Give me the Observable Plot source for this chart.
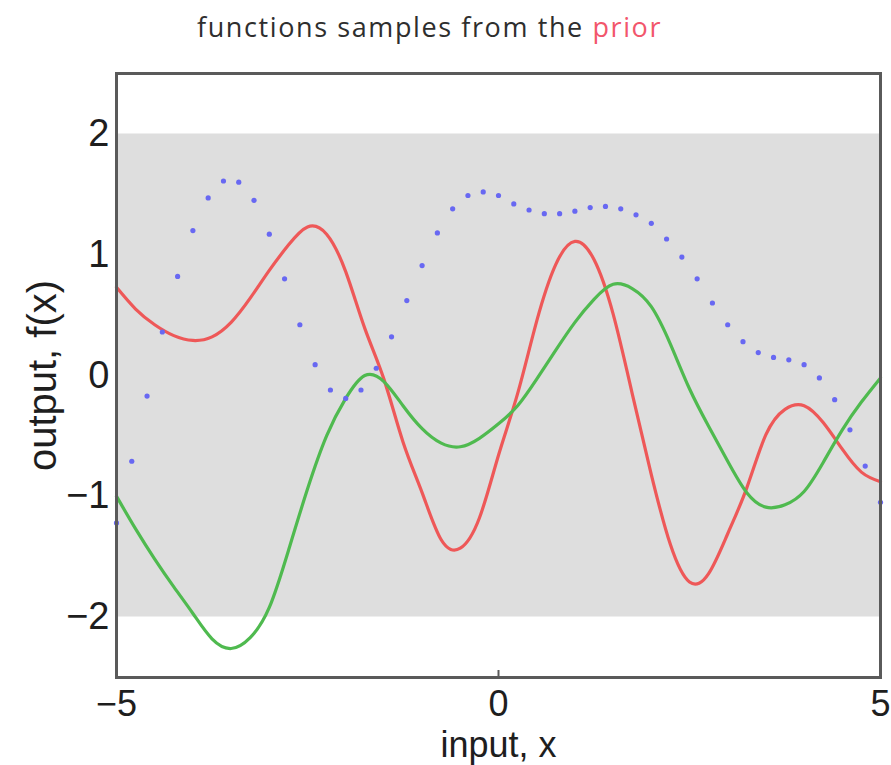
<!DOCTYPE html>
<html>
<head>
<meta charset="utf-8">
<script src="https://cdn.jsdelivr.net/npm/d3@7"></script>
<script src="https://cdn.jsdelivr.net/npm/@observablehq/plot@0.6"></script>
<style>
  html, body { margin: 0; padding: 0; background: #fff; }
  #chart { width: 891px; height: 765px; overflow: hidden; }
  #title {
    height: 52px;
    line-height: 54px;
    padding-left: 197px;
    font-family: "Open Sans", "Noto Sans", sans-serif;
    font-size: 27px;
    letter-spacing: 1.6px;
    color: #2e2e2e;
    white-space: nowrap;
  }
  #title .prior { color: #f2566c; }
  svg { display: block; }
</style>
</head>
<body>
<div id="chart">
  <div id="title">functions samples from the <span class="prior">prior</span></div>
</div>
<script>
// Axis settings
const xDomain = [-5, 5];
const yDomain = [-2.5, 2.5];
const xTicks = [-5, 0, 5];
const yTicks = [-2, -1, 0, 1, 2];
const xLabel = "input, x";
const yLabel = "output, f(x)";

// Prior: zero mean, shaded band of +/- two standard deviations
const bandX = [-5, 5];
const bandHalfWidth = 2;

// Grid on which the two smooth sample functions are evaluated
const sampleX = [
  -5, -4.75, -4.5, -4.25, -4, -3.75, -3.5, -3.25, -3, -2.75, -2.5, -2.25, -2, -1.75,
  -1.5, -1.25, -1, -0.75, -0.5, -0.25, 0, 0.25, 0.5, 0.75, 1, 1.25, 1.5, 1.75, 2,
  2.25, 2.5, 2.75, 3, 3.25, 3.5, 3.75, 4, 4.25, 4.5, 4.75, 5
];
const redSample = [
  0.73, 0.55, 0.42, 0.33, 0.29, 0.32, 0.44, 0.64, 0.87, 1.08, 1.23, 1.17, 0.86, 0.39,
  -0.03, -0.55, -0.97, -1.36, -1.43, -1.18, -0.66, -0.15, 0.45, 0.92, 1.11, 0.96, 0.51, -0.15, -0.82,
  -1.40, -1.71, -1.64, -1.31, -0.93, -0.49, -0.28, -0.25, -0.39, -0.61, -0.80, -0.88
];
const greenSample = [
  -1.00, -1.27, -1.52, -1.75, -1.97, -2.18, -2.26, -2.17, -1.92, -1.45, -0.94, -0.50, -0.19, 0.00,
  -0.05, -0.25, -0.44, -0.56, -0.59, -0.52, -0.40, -0.25, -0.03, 0.21, 0.44, 0.63, 0.755, 0.72, 0.57,
  0.26, -0.11, -0.42, -0.71, -0.97, -1.09, -1.07, -0.96, -0.72, -0.45, -0.22, -0.02
];

// Third sample, drawn as points on a coarser grid
const dotX = [
  -5, -4.8, -4.6, -4.4, -4.2, -4, -3.8, -3.6, -3.4, -3.2, -3, -2.8, -2.6, -2.4, -2.2, -2,
  -1.8, -1.6, -1.4, -1.2, -1, -0.8, -0.6, -0.4, -0.2, 0, 0.2, 0.4, 0.6, 0.8, 1, 1.2, 1.4,
  1.6, 1.8, 2, 2.2, 2.4, 2.6, 2.8, 3, 3.2, 3.4, 3.6, 3.8, 4, 4.2, 4.4, 4.6, 4.8, 5
];
const dotY = [
  -1.22, -0.71, -0.17, 0.36, 0.82, 1.20, 1.47, 1.61, 1.60, 1.45, 1.17, 0.80, 0.42, 0.09, -0.12, -0.19,
  -0.12, 0.06, 0.32, 0.62, 0.91, 1.18, 1.38, 1.49, 1.52, 1.49, 1.42, 1.37, 1.34, 1.34, 1.36, 1.39, 1.40,
  1.38, 1.33, 1.26, 1.13, 0.98, 0.80, 0.60, 0.42, 0.28, 0.19, 0.15, 0.13, 0.09, -0.02, -0.20, -0.45, -0.75, -1.05
];

const redCurve = sampleX.map((x, i) => ({x, y: redSample[i]}));
const greenCurve = sampleX.map((x, i) => ({x, y: greenSample[i]}));
const dots = dotX.map((x, i) => ({x, y: dotY[i]}));

const fmt = d => (d < 0 ? "\u2212" + Math.abs(d) : String(d));

const frameColor = "#5a5a5a";
const textColor = "#1e1e1e";

const chart = Plot.plot({
  width: 891,
  height: 713,
  marginTop: 21,
  marginBottom: 88,
  marginLeft: 116,
  marginRight: 11,
  x: {domain: xDomain, axis: null},
  y: {domain: yDomain, axis: null},
  style: {fontFamily: "'Liberation Sans', Arial, sans-serif", background: "#fff", color: textColor},
  marks: [
    Plot.areaY(bandX, {x: d => d, y1: -bandHalfWidth, y2: bandHalfWidth, fill: "#dedede"}),
    Plot.line(redCurve, {x: "x", y: "y", stroke: "#ee5858", strokeWidth: 3.2, curve: "natural"}),
    Plot.line(greenCurve, {x: "x", y: "y", stroke: "#4fba4f", strokeWidth: 3.2, curve: "natural"}),
    Plot.dot(dots, {x: "x", y: "y", r: 2.6, fill: "#6868f2", stroke: "none"}),
    Plot.tickX(xTicks, {x: d => d, insetTop: 597, stroke: frameColor, strokeWidth: 2}),
    Plot.frame({stroke: frameColor, strokeWidth: 3}),
    Plot.text(xTicks, {x: d => d, frameAnchor: "bottom", lineAnchor: "middle", dy: 27, text: fmt, fontSize: 36, fill: textColor}),
    Plot.text(yTicks, {y: d => d, frameAnchor: "left", lineAnchor: "middle", dx: -7, textAnchor: "end", text: fmt, fontSize: 38, fill: textColor}),
    Plot.text([xLabel], {frameAnchor: "bottom", lineAnchor: "middle", textAnchor: "middle", dy: 68, text: d => d, fontSize: 36, fill: textColor}),
    Plot.text([yLabel], {frameAnchor: "left", lineAnchor: "middle", textAnchor: "middle", dx: -73, rotate: -90, text: d => d, fontSize: 40, fill: textColor})
  ]
});

document.getElementById("chart").appendChild(chart);
</script>
</body>
</html>
